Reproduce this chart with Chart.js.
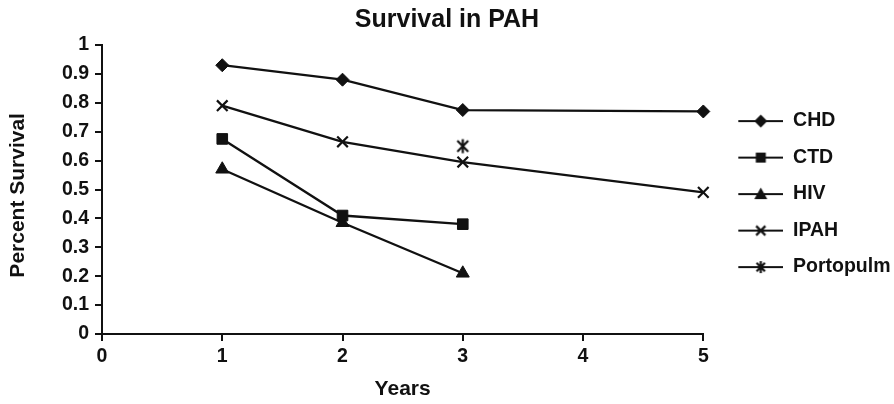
<!DOCTYPE html>
<html>
<head>
<meta charset="utf-8">
<title>Survival in PAH</title>
<script src="https://cdn.jsdelivr.net/npm/chart.js@4/dist/chart.umd.min.js"></script>
<style>
  html, body { margin: 0; padding: 0; background: #fff; }
  #wrap { width: 894px; height: 404px; position: relative; }
</style>
</head>
<body>
<div id="wrap"><canvas id="chart" width="894" height="404"></canvas></div>
<script>
// Survival fraction by PAH subgroup and year of follow-up
const yearsCHD = [1, 2, 3, 5];
const survCHD = [0.93, 0.88, 0.775, 0.77];

const yearsCTD = [1, 2, 3];
const survCTD = [0.675, 0.41, 0.38];

const yearsHIV = [1, 2, 3];
const survHIV = [0.57, 0.385, 0.21];

const yearsIPAH = [1, 2, 3, 5];
const survIPAH = [0.79, 0.665, 0.595, 0.49];

const yearsPorto = [3];
const survPorto = [0.65];

const seriesNames = ['CHD', 'CTD', 'HIV', 'IPAH', 'Portopulm'];
const xTickLabels = ['0', '1', '2', '3', '4', '5'];
const yTickLabels = ['0', '0.1', '0.2', '0.3', '0.4', '0.5', '0.6', '0.7', '0.8', '0.9', '1'];

const INK = '#111';
const FONT = "'Liberation Sans', Arial, Helvetica, sans-serif";

function toPoints(xs, ys) {
  return xs.map((x, i) => ({ x: x, y: ys[i] }));
}

// Six-armed asterisk marker (an X with a vertical stroke)
function asteriskMarker(size, lw) {
  const c = document.createElement('canvas');
  c.width = size; c.height = size;
  const g = c.getContext('2d');
  const m = size / 2;
  const a = size * 0.32;
  g.strokeStyle = INK;
  g.lineWidth = lw;
  g.lineCap = 'butt';
  g.beginPath();
  g.moveTo(m - a, m - a); g.lineTo(m + a, m + a);
  g.moveTo(m + a, m - a); g.lineTo(m - a, m + a);
  g.moveTo(m, m - a * 1.3); g.lineTo(m, m + a * 1.3);
  g.stroke();
  return c;
}

// Legend swatch: a short line segment with the series marker in the middle
const SWATCH_W = 63;
const SEG_W = 45;
function legendSwatch(shape) {
  const h = 18;
  const c = document.createElement('canvas');
  c.width = SWATCH_W; c.height = h;
  const g = c.getContext('2d');
  const x0 = SWATCH_W - SEG_W, cx = SWATCH_W - SEG_W / 2, cy = h / 2;
  g.strokeStyle = INK; g.fillStyle = INK; g.lineWidth = 2;
  g.beginPath(); g.moveTo(x0, cy); g.lineTo(SWATCH_W, cy); g.stroke();
  g.beginPath();
  if (shape === 'diamond') {
    const r = 6.5;
    g.moveTo(cx, cy - r); g.lineTo(cx + r, cy); g.lineTo(cx, cy + r); g.lineTo(cx - r, cy); g.closePath(); g.fill();
  } else if (shape === 'square') {
    const s = 5;
    g.rect(cx - s, cy - s, 2 * s, 2 * s); g.fill();
  } else if (shape === 'triangle') {
    const r = 6.5;
    g.moveTo(cx, cy - r); g.lineTo(cx + r, cy + r * 0.75); g.lineTo(cx - r, cy + r * 0.75); g.closePath(); g.fill();
  } else if (shape === 'x') {
    const a = 4.6;
    g.lineWidth = 2.2;
    g.moveTo(cx - a, cy - a); g.lineTo(cx + a, cy + a);
    g.moveTo(cx + a, cy - a); g.lineTo(cx - a, cy + a); g.stroke();
  } else if (shape === 'asterisk') {
    const a = 4.2;
    g.lineWidth = 2.2;
    g.moveTo(cx - a, cy - a); g.lineTo(cx + a, cy + a);
    g.moveTo(cx + a, cy - a); g.lineTo(cx - a, cy + a);
    g.moveTo(cx, cy - a * 1.4); g.lineTo(cx, cy + a * 1.4); g.stroke();
  }
  return c;
}

const swatches = [
  legendSwatch('diamond'),
  legendSwatch('square'),
  legendSwatch('triangle'),
  legendSwatch('x'),
  legendSwatch('asterisk')
];

const lineStyle = {
  borderColor: INK,
  backgroundColor: INK,
  borderWidth: 2.3,
  pointBorderColor: INK,
  pointBackgroundColor: INK,
  tension: 0,
  fill: false,
  clip: false
};

const data = {
  datasets: [
    Object.assign({}, lineStyle, {
      label: seriesNames[0], data: toPoints(yearsCHD, survCHD),
      pointStyle: 'rectRot', pointRadius: 6.5, pointBorderWidth: 1
    }),
    Object.assign({}, lineStyle, {
      label: seriesNames[1], data: toPoints(yearsCTD, survCTD),
      pointStyle: 'rect', pointRadius: 7.5, pointBorderWidth: 1
    }),
    Object.assign({}, lineStyle, {
      label: seriesNames[2], data: toPoints(yearsHIV, survHIV),
      pointStyle: 'triangle', pointRadius: 7.5, pointBorderWidth: 1
    }),
    Object.assign({}, lineStyle, {
      label: seriesNames[3], data: toPoints(yearsIPAH, survIPAH),
      pointStyle: 'crossRot', pointRadius: 7.5, pointBorderWidth: 2.2
    }),
    Object.assign({}, lineStyle, {
      label: seriesNames[4], data: toPoints(yearsPorto, survPorto),
      pointStyle: asteriskMarker(17, 2.2), pointRadius: 7, showLine: false
    })
  ]
};

const tickFont = { family: FONT, size: 19.5, weight: 'bold' };
const axisTitleFont = { family: FONT, size: 21, weight: 'bold' };

new Chart(document.getElementById('chart'), {
  type: 'line',
  data: data,
  options: {
    responsive: false,
    animation: false,
    devicePixelRatio: 1,
    layout: { padding: 0 },
    plugins: {
      title: {
        display: true,
        text: 'Survival in PAH',
        color: INK,
        font: { family: FONT, size: 25, weight: 'bold' },
        padding: { top: 5, bottom: 10 }
      },
      legend: {
        display: true,
        position: 'right',
        fullSize: false,
        maxWidth: 190.7,
        title: { display: true, text: '', color: INK, font: { size: 1 }, padding: 4 },
        labels: {
          usePointStyle: true,
          pointStyleWidth: SWATCH_W,
          padding: 17,
          color: INK,
          font: { family: FONT, size: 19.5, weight: 'bold' },
          generateLabels: (chart) => chart.data.datasets.map((ds, i) => ({
            text: ds.label,
            fontColor: INK,
            pointStyle: swatches[i],
            fillStyle: INK,
            strokeStyle: INK,
            lineWidth: 0,
            hidden: false,
            datasetIndex: i
          }))
        }
      },
      tooltip: { enabled: false }
    },
    scales: {
      x: {
        type: 'linear',
        min: 0,
        max: 5,
        afterFit: (s) => { s.height = 70; },
        ticks: {
          stepSize: 1,
          padding: 4,
          color: INK,
          font: tickFont,
          maxRotation: 0,
          callback: (v, i) => xTickLabels[i]
        },
        grid: { display: true, drawOnChartArea: false, drawTicks: true, tickLength: 7, color: INK, lineWidth: 2 },
        border: { display: true, color: INK, width: 2 },
        title: {
          display: true,
          text: 'Years',
          color: INK,
          font: axisTitleFont,
          padding: { top: 0, bottom: 2 }
        }
      },
      y: {
        type: 'linear',
        min: 0,
        max: 1,
        afterFit: (s) => { s.width = 102; },
        ticks: {
          stepSize: 0.1,
          padding: 6,
          color: INK,
          font: tickFont,
          callback: (v, i) => yTickLabels[i]
        },
        grid: { display: true, drawOnChartArea: false, drawTicks: true, tickLength: 7, color: INK, lineWidth: 2 },
        border: { display: true, color: INK, width: 2 },
        title: {
          display: true,
          text: 'Percent Survival\u00a0\u00a0',
          color: INK,
          font: axisTitleFont,
          padding: { top: 6, bottom: 0 }
        }
      }
    }
  }
});
</script>
</body>
</html>
